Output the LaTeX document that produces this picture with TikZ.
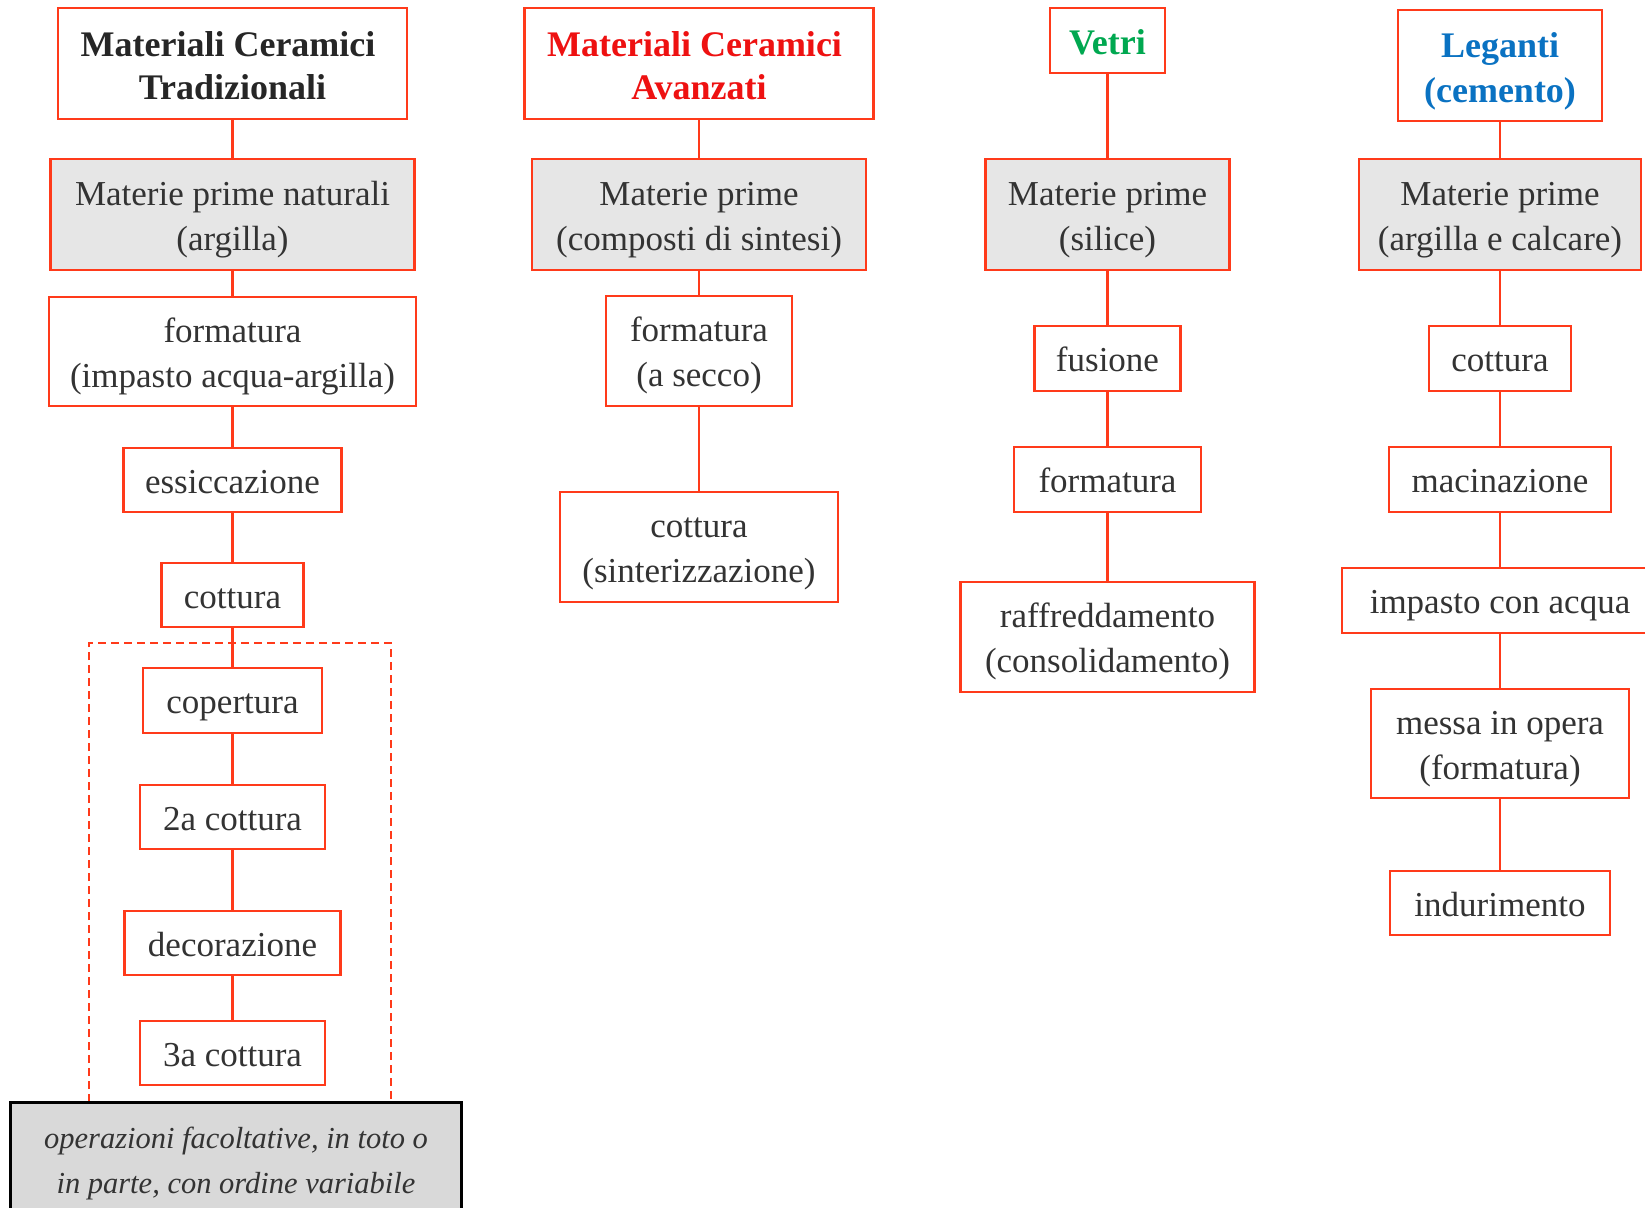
\documentclass[tikz,border=0pt]{standalone}
\usepackage{fontspec}
\setmainfont{Liberation Serif}
\definecolor{bord}{HTML}{FF3A1A}
\definecolor{txt}{HTML}{333333}
\definecolor{grayfill}{HTML}{E6E6E6}
\definecolor{notefill}{HTML}{D9D9D9}
\definecolor{tred}{HTML}{EE1111}
\definecolor{tgreen}{HTML}{00A850}
\definecolor{tblue}{HTML}{0A72C2}
\newcommand\ms{\vrule height 35pt depth 9pt width 0pt\relax}
\newcommand\mt{\vrule height 36pt depth 7pt width 0pt\relax}
\begin{document}
\begin{tikzpicture}[x=1pt,y=-1pt,
  box/.style={draw=bord, line width=2.2pt, fill=white, inner sep=0pt, align=center,
     text=txt, font=\fontsize{35}{45}\selectfont},
  rawbox/.style={box, fill=grayfill},
  titlebox/.style={box, font=\fontsize{36}{43}\selectfont\bfseries},
  notebox/.style={draw=black, line width=3pt, fill=notefill, inner sep=0pt, align=center,
     text=txt, font=\fontsize{30.5}{43}\selectfont\itshape},
  link/.style={draw=bord, line width=2.6pt}]
\useasboundingbox (0,0) rectangle (1645,1207);
\begin{scope}
\clip (0,0) rectangle (1645,1207);
% column 1
\node[titlebox, text=black!85, minimum width=349, minimum height=111] (t1) at (232.5,63.5) {\mt Materiali Ceramici\hspace*{9pt}\\\mt Tradizionali};
\node[rawbox, minimum width=364, minimum height=111] (m1) at (232.5,214.5) {\ms Materie prime naturali\\\ms(argilla)};
\node[box, minimum width=367, minimum height=109] (f1) at (232.5,351.5) {\ms formatura\\\ms(impasto acqua-argilla)};
\node[box, minimum width=218, minimum height=64] (e1) at (232.5,480) {\ms essiccazione};
\node[box, minimum width=142, minimum height=64] (c1) at (232.5,595) {\ms cottura};
\coordinate (dtl) at (89,643);
\coordinate (dbr) at (391,1102);
\draw[draw=bord, line width=2pt, dash pattern=on 8pt off 5pt] (dtl |- dbr) -- (dtl) -- (dbr |- dtl) -- (dbr);
\node[box, minimum width=179, minimum height=65] (p1) at (232.5,700.5) {\ms copertura};
\node[box, minimum width=185, minimum height=64] (s1) at (232.5,817) {\ms 2a cottura};
\node[box, minimum width=216, minimum height=64] (d1) at (232.5,943) {\ms decorazione};
\node[box, minimum width=185, minimum height=64] (r1) at (232.5,1053) {\ms 3a cottura};
\node[notebox, minimum width=451, minimum height=111] (note) at (236,1157.5)
  {\ms operazioni facoltative, in toto o\\\ms in parte, con ordine variabile};
% column 2
\node[titlebox, text=tred, minimum width=349, minimum height=111] (t2) at (699,63.5) {\mt Materiali Ceramici\hspace*{9pt}\\\mt Avanzati};
\node[rawbox, minimum width=334, minimum height=111] (m2) at (699,214.5) {\ms Materie prime\\\ms(composti di sintesi)};
\node[box, minimum width=186, minimum height=110] (f2) at (699,351) {\ms formatura\\\ms(a secco)};
\node[box, minimum width=278, minimum height=110] (c2) at (699,547) {\ms cottura\\\ms(sinterizzazione)};
% column 3
\node[titlebox, text=tgreen, minimum width=115, minimum height=65] (t3) at (1107.5,40.5) {\mt Vetri};
\node[rawbox, minimum width=244, minimum height=111] (m3) at (1107.5,214.5) {\ms Materie prime\\\ms(silice)};
\node[box, minimum width=146, minimum height=65] (fu3) at (1107.5,358.5) {\ms fusione};
\node[box, minimum width=187, minimum height=65] (fo3) at (1107.5,479.5) {\ms formatura};
\node[box, minimum width=294, minimum height=110] (ra3) at (1107.5,637) {\ms raffreddamento\\\ms(consolidamento)};
% column 4
\node[titlebox, text=tblue, minimum width=204, minimum height=111] (t4) at (1500,65.5) {\mt Leganti\\\mt(cemento)};
\node[rawbox, minimum width=282, minimum height=111] (m4) at (1500,214.5) {\ms Materie prime\\\ms(argilla e calcare)};
\node[box, minimum width=142, minimum height=65] (co4) at (1500,358.5) {\ms cottura};
\node[box, minimum width=222, minimum height=65] (ma4) at (1500,479.5) {\ms macinazione};
\node[box, minimum width=316, minimum height=65] (im4) at (1500,600.5) {\ms impasto con acqua};
\node[box, minimum width=258, minimum height=109] (me4) at (1500,743.5) {\ms messa in opera\\\ms(formatura)};
\node[box, minimum width=220, minimum height=64] (in4) at (1500,903) {\ms indurimento};
% links
\foreach \a/\b in {t1/m1,m1/f1,f1/e1,e1/c1,c1/p1,p1/s1,s1/d1,d1/r1,
  t2/m2,m2/f2,f2/c2,t3/m3,m3/fu3,fu3/fo3,fo3/ra3,
  t4/m4,m4/co4,co4/ma4,ma4/im4,im4/me4,me4/in4}
  \draw[link] (\a.south) -- (\b.north);
\end{scope}
\end{tikzpicture}
\end{document}
